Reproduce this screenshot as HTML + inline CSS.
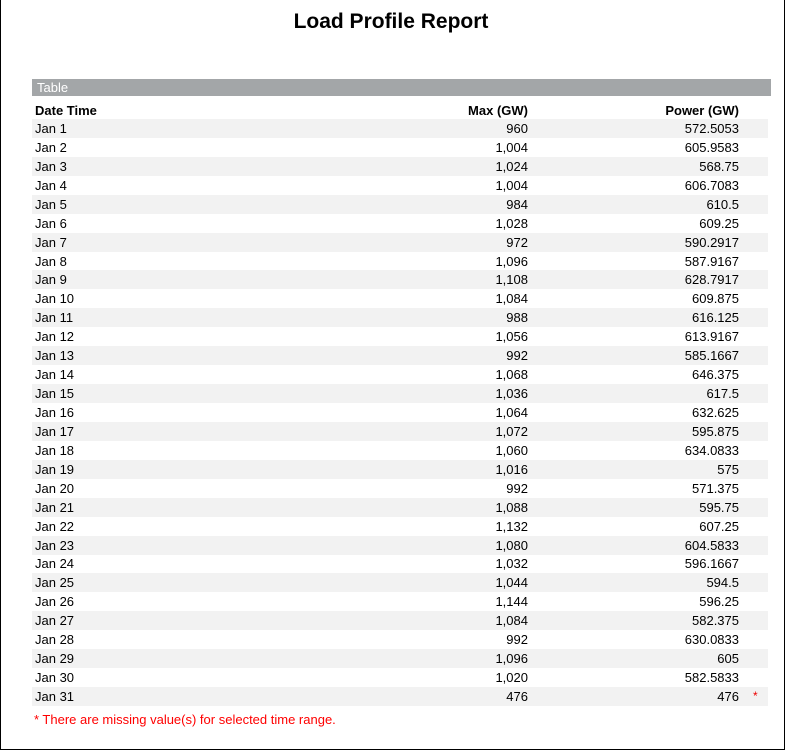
<!DOCTYPE html>
<html><head><style>
body{margin:0;width:786px;height:752px;background:#fff;position:relative;font-family:"Liberation Sans",Arial,sans-serif;overflow:hidden}
.frame{position:absolute;left:0;top:0;width:783px;height:749px;border:1px solid #000;border-top:none}
.title{position:absolute;left:0;width:782px;top:10px;text-align:center;font-weight:bold;font-size:21px;color:#000}
.bar{position:absolute;left:32px;top:79px;width:739px;height:17px;background:#a3a6a8;color:#fff;font-size:13px;line-height:18px}
.bar span{padding-left:5px}
.row{position:absolute;left:32px;width:736px;height:19px;font-size:13px;line-height:19px;color:#000}
.row.g{background:#f2f2f2}
.c1{position:absolute;left:3px}
.c2{position:absolute;right:240px}
.c3{position:absolute;right:29px}
.st{position:absolute;left:721px;color:#e00;font-size:12px}
.hd{font-weight:bold}
.note{position:absolute;left:34px;top:712px;color:#f00;font-size:13px}
</style></head><body>
<div class="frame"></div>
<div class="title">Load Profile Report</div>
<div class="bar"><span>Table</span></div>
<div class="row hd" style="top:101px"><span class="c1">Date Time</span><span class="c2">Max (GW)</span><span class="c3">Power (GW)</span></div>
<div class="row g" style="top:119.0px"><span class="c1">Jan 1</span><span class="c2">960</span><span class="c3">572.5053</span></div>
<div class="row" style="top:137.9px"><span class="c1">Jan 2</span><span class="c2">1,004</span><span class="c3">605.9583</span></div>
<div class="row g" style="top:156.9px"><span class="c1">Jan 3</span><span class="c2">1,024</span><span class="c3">568.75</span></div>
<div class="row" style="top:175.8px"><span class="c1">Jan 4</span><span class="c2">1,004</span><span class="c3">606.7083</span></div>
<div class="row g" style="top:194.7px"><span class="c1">Jan 5</span><span class="c2">984</span><span class="c3">610.5</span></div>
<div class="row" style="top:213.7px"><span class="c1">Jan 6</span><span class="c2">1,028</span><span class="c3">609.25</span></div>
<div class="row g" style="top:232.6px"><span class="c1">Jan 7</span><span class="c2">972</span><span class="c3">590.2917</span></div>
<div class="row" style="top:251.5px"><span class="c1">Jan 8</span><span class="c2">1,096</span><span class="c3">587.9167</span></div>
<div class="row g" style="top:270.4px"><span class="c1">Jan 9</span><span class="c2">1,108</span><span class="c3">628.7917</span></div>
<div class="row" style="top:289.4px"><span class="c1">Jan 10</span><span class="c2">1,084</span><span class="c3">609.875</span></div>
<div class="row g" style="top:308.3px"><span class="c1">Jan 11</span><span class="c2">988</span><span class="c3">616.125</span></div>
<div class="row" style="top:327.2px"><span class="c1">Jan 12</span><span class="c2">1,056</span><span class="c3">613.9167</span></div>
<div class="row g" style="top:346.2px"><span class="c1">Jan 13</span><span class="c2">992</span><span class="c3">585.1667</span></div>
<div class="row" style="top:365.1px"><span class="c1">Jan 14</span><span class="c2">1,068</span><span class="c3">646.375</span></div>
<div class="row g" style="top:384.0px"><span class="c1">Jan 15</span><span class="c2">1,036</span><span class="c3">617.5</span></div>
<div class="row" style="top:403.0px"><span class="c1">Jan 16</span><span class="c2">1,064</span><span class="c3">632.625</span></div>
<div class="row g" style="top:421.9px"><span class="c1">Jan 17</span><span class="c2">1,072</span><span class="c3">595.875</span></div>
<div class="row" style="top:440.8px"><span class="c1">Jan 18</span><span class="c2">1,060</span><span class="c3">634.0833</span></div>
<div class="row g" style="top:459.8px"><span class="c1">Jan 19</span><span class="c2">1,016</span><span class="c3">575</span></div>
<div class="row" style="top:478.7px"><span class="c1">Jan 20</span><span class="c2">992</span><span class="c3">571.375</span></div>
<div class="row g" style="top:497.6px"><span class="c1">Jan 21</span><span class="c2">1,088</span><span class="c3">595.75</span></div>
<div class="row" style="top:516.5px"><span class="c1">Jan 22</span><span class="c2">1,132</span><span class="c3">607.25</span></div>
<div class="row g" style="top:535.5px"><span class="c1">Jan 23</span><span class="c2">1,080</span><span class="c3">604.5833</span></div>
<div class="row" style="top:554.4px"><span class="c1">Jan 24</span><span class="c2">1,032</span><span class="c3">596.1667</span></div>
<div class="row g" style="top:573.3px"><span class="c1">Jan 25</span><span class="c2">1,044</span><span class="c3">594.5</span></div>
<div class="row" style="top:592.3px"><span class="c1">Jan 26</span><span class="c2">1,144</span><span class="c3">596.25</span></div>
<div class="row g" style="top:611.2px"><span class="c1">Jan 27</span><span class="c2">1,084</span><span class="c3">582.375</span></div>
<div class="row" style="top:630.1px"><span class="c1">Jan 28</span><span class="c2">992</span><span class="c3">630.0833</span></div>
<div class="row g" style="top:649.1px"><span class="c1">Jan 29</span><span class="c2">1,096</span><span class="c3">605</span></div>
<div class="row" style="top:668.0px"><span class="c1">Jan 30</span><span class="c2">1,020</span><span class="c3">582.5833</span></div>
<div class="row g" style="top:686.9px"><span class="c1">Jan 31</span><span class="c2">476</span><span class="c3">476</span><span class="st">*</span></div>
<div class="note">* There are missing value(s) for selected time range.</div>
</body></html>
